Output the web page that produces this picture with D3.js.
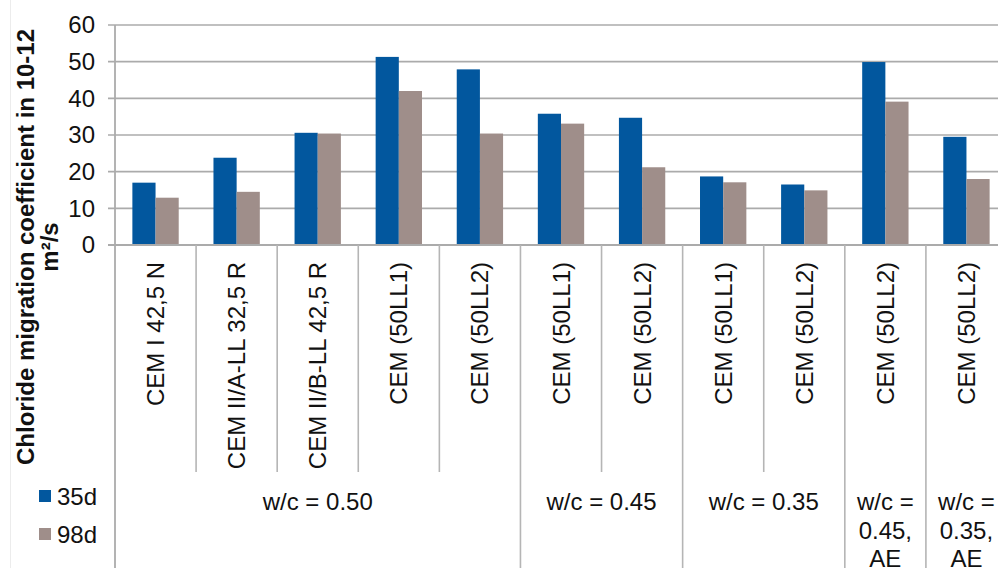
<!DOCTYPE html>
<html>
<head>
<meta charset="utf-8">
<script src="https://cdn.jsdelivr.net/npm/d3@7"></script>
<style>
  html, body { margin: 0; padding: 0; background: #fff; }
  svg { display: block; font-family: "Liberation Sans", Arial, sans-serif; }
</style>
</head>
<body>
<svg id="chart" width="998" height="568"></svg>
<script>
// Chloride migration coefficients (10^-12 m²/s) after 35 and 98 days
const categories = [
  "CEM I 42,5 N", "CEM II/A-LL 32,5 R", "CEM II/B-LL 42,5 R",
  "CEM (50LL1)", "CEM (50LL2)",
  "CEM (50LL1)", "CEM (50LL2)",
  "CEM (50LL1)", "CEM (50LL2)",
  "CEM (50LL2)", "CEM (50LL2)"
];
const values35d = [17.0, 23.8, 30.6, 51.3, 47.9, 35.8, 34.7, 18.7, 16.5, 49.9, 29.5];
const values98d = [12.9, 14.5, 30.4, 42.0, 30.4, 33.1, 21.2, 17.1, 14.9, 39.1, 18.0];
const seriesNames = ["35d", "98d"];
const groupLabels = [["w/c = 0.50"], ["w/c = 0.45"], ["w/c = 0.35"], ["w/c =", "0.45,", "AE"], ["w/c =", "0.35,", "AE"]];
const groupSizes = [5, 2, 2, 1, 1];
const yTicks = [0, 10, 20, 30, 40, 50, 60];
const yTitle = ["Chloride migration coefficient in 10-12", "m²/s"];

const colors = ["#02579e", "#9f8e8a"];
const gridColor = "#ababab";
const textColor = "#111";
const FS = 24;

const svg = d3.select("#chart");
const plot = { left: 115, right: 1007, top: 25, bottom: 245 };

const x = d3.scaleBand()
  .domain(d3.range(categories.length))
  .range([plot.left, plot.right])
  .padding(0);
const xInner = d3.scaleBand()
  .domain(seriesNames)
  .range([0, x.bandwidth()])
  .paddingInner(0)
  .paddingOuter(0.75);
const y = d3.scaleLinear().domain([0, 60]).range([plot.bottom, plot.top]);

// faint outer frame line on the left
svg.append("line")
  .attr("x1", 10.5).attr("x2", 10.5).attr("y1", 0).attr("y2", 568)
  .attr("stroke", "#ececec").attr("stroke-width", 1);

// horizontal gridlines with outside ticks
svg.append("g").selectAll("line")
  .data(yTicks.filter(d => d > 0))
  .join("line")
  .attr("x1", plot.left - 7).attr("x2", plot.right)
  .attr("y1", d => y(d)).attr("y2", d => y(d))
  .attr("stroke", gridColor).attr("stroke-width", 1.6);

// y tick labels
const yAxis = d3.axisLeft(y).tickValues(yTicks).tickSize(0).tickPadding(20);
const gy = svg.append("g").attr("transform", `translate(${plot.left},0)`).call(yAxis);
gy.select(".domain").remove();
gy.selectAll("text")
  .attr("font-size", FS).attr("fill", textColor)
  .attr("font-family", "Liberation Sans, Arial, sans-serif");

// bars
const seriesData = [values35d, values98d];
const gBars = svg.append("g");
seriesData.forEach((vals, si) => {
  gBars.append("g").selectAll("rect")
    .data(vals)
    .join("rect")
    .attr("x", (d, i) => x(i) + xInner(seriesNames[si]))
    .attr("width", xInner.bandwidth())
    .attr("y", d => y(d))
    .attr("height", d => y(0) - y(d))
    .attr("fill", colors[si]);
});

// x axis line (zero)
svg.append("line")
  .attr("x1", plot.left - 7).attr("x2", plot.right)
  .attr("y1", y(0)).attr("y2", y(0))
  .attr("stroke", gridColor).attr("stroke-width", 1.8);

// y axis line, running down through the category area
svg.append("line")
  .attr("x1", plot.left).attr("x2", plot.left)
  .attr("y1", plot.top).attr("y2", 568)
  .attr("stroke", gridColor).attr("stroke-width", 1.8);

// category separators: group boundaries run to the bottom, inner ones stop above the group row
const groupEnds = [];
let acc = 0;
groupSizes.forEach(s => { acc += s; groupEnds.push(acc); });
const sepIdx = d3.range(1, categories.length + 1);
svg.append("g").selectAll("line")
  .data(sepIdx)
  .join("line")
  .attr("x1", i => i < categories.length ? x(i) : plot.right)
  .attr("x2", i => i < categories.length ? x(i) : plot.right)
  .attr("y1", y(0))
  .attr("y2", i => groupEnds.includes(i) ? 568 : 472)
  .attr("stroke", "#b5b5b5").attr("stroke-width", 1.6);

// rotated category labels
svg.append("g").selectAll("text")
  .data(categories)
  .join("text")
  .attr("transform", (d, i) => `translate(${x(i) + x.bandwidth() / 2},262) rotate(-90)`)
  .attr("text-anchor", "end")
  .attr("dominant-baseline", "central")
  .attr("font-size", FS)
  .attr("fill", textColor)
  .text(d => d);

// group labels
let start = 0;
groupLabels.forEach((lines, gi) => {
  const end = start + groupSizes[gi];
  const cx = (x(start) + (end < categories.length ? x(end) : plot.right)) / 2;
  const t = svg.append("text")
    .attr("text-anchor", "middle")
    .attr("font-size", FS)
    .attr("fill", textColor);
  lines.forEach((ln, li) => {
    t.append("tspan")
      .attr("x", cx)
      .attr("y", 510 + li * 28.5)
      .text(ln);
  });
  start = end;
});

// y axis title (two lines, rotated)
yTitle.forEach((ln, li) => {
  svg.append("text")
    .attr("transform", `translate(${li === 0 ? 25 : 49},247) rotate(-90)`)
    .attr("text-anchor", "middle")
    .attr("dominant-baseline", "central")
    .attr("font-size", FS)
    .attr("font-weight", "bold")
    .attr("fill", textColor)
    .text(ln);
});

// legend
const legend = svg.append("g");
seriesNames.forEach((name, i) => {
  const ly = 496 + i * 38;
  legend.append("rect")
    .attr("x", 39).attr("y", ly - 6).attr("width", 12).attr("height", 12)
    .attr("fill", colors[i]);
  legend.append("text")
    .attr("x", 57).attr("y", ly)
    .attr("dominant-baseline", "central")
    .attr("font-size", FS)
    .attr("fill", textColor)
    .text(name);
});
</script>
</body>
</html>
